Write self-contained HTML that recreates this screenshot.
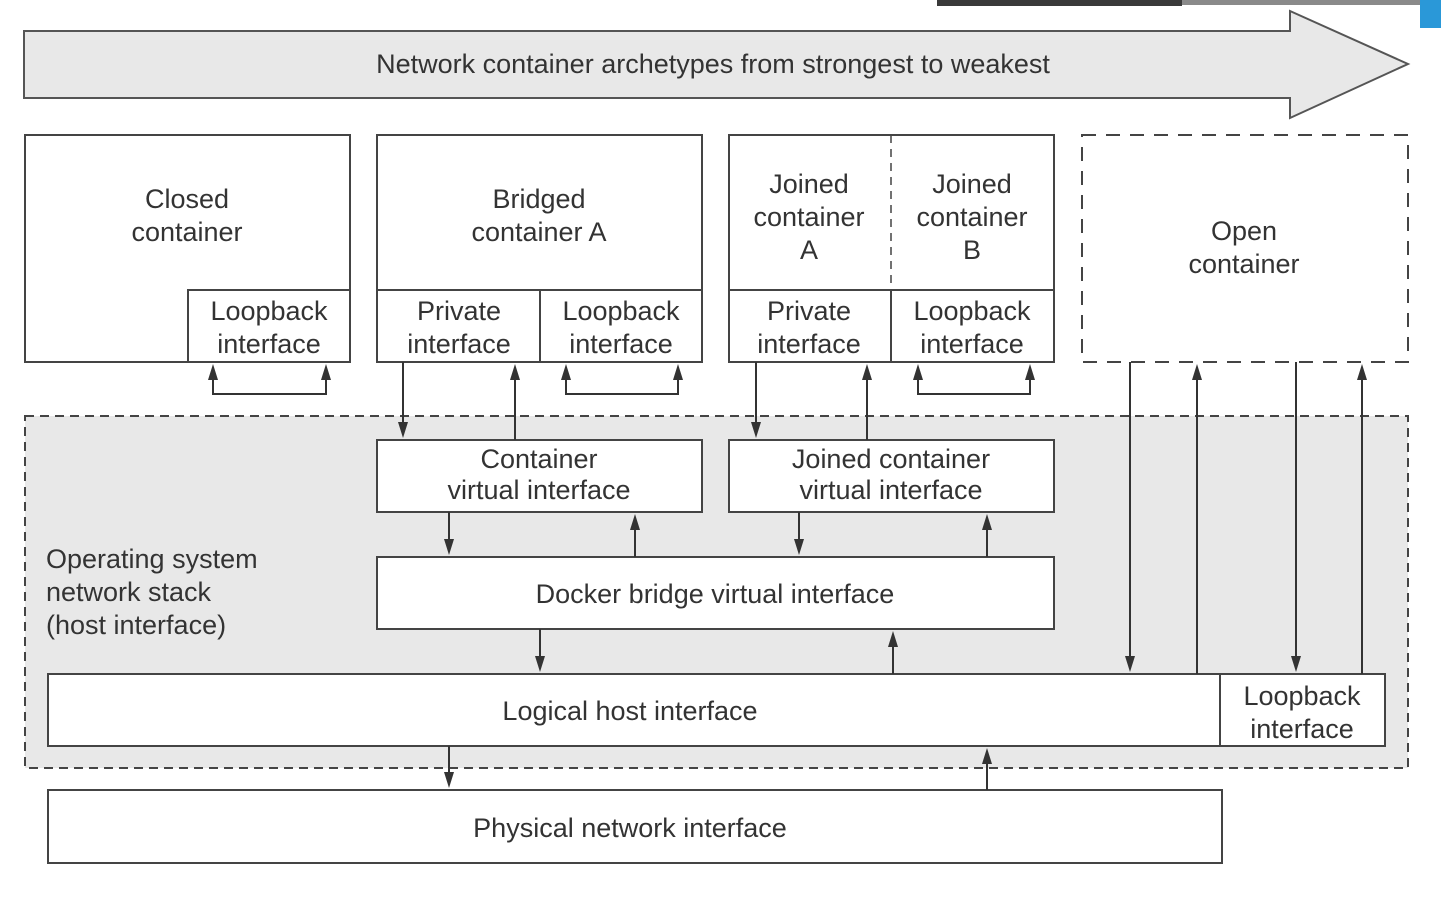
<!DOCTYPE html>
<html><head><meta charset="utf-8"><style>
html,body{margin:0;padding:0;background:#fff;}
svg{display:block;}
text{font-family:"Liberation Sans",Arial,sans-serif;font-size:27px;fill:#333;text-anchor:middle;}
</style></head><body>
<svg width="1441" height="904" viewBox="0 0 1441 904" xmlns="http://www.w3.org/2000/svg">
<rect x="937" y="0" width="245" height="6" fill="#3a3a3a"/>
<rect x="1182" y="0" width="238" height="5" fill="#8a8a8a"/>
<rect x="1420" y="0" width="21" height="28" fill="#2a98d8"/>
<g stroke="#444" stroke-width="2" fill="none">
<path d="M24,31 L1290,31 L1290,11 L1408,64 L1290,118 L1290,98 L24,98 Z" fill="#e8e8e8" stroke="#555"/>
<rect x="25" y="416" width="1383" height="352" fill="#e8e8e8" stroke-dasharray="9,6"/>
<rect x="25" y="135" width="325" height="227" fill="#fff"/>
<rect x="188" y="290" width="162" height="72"/>
<rect x="377" y="135" width="325" height="227" fill="#fff"/>
<line x1="377" y1="290" x2="702" y2="290"/>
<line x1="540" y1="290" x2="540" y2="362"/>
<rect x="729" y="135" width="325" height="227" fill="#fff"/>
<line x1="729" y1="290" x2="1054" y2="290"/>
<line x1="891" y1="290" x2="891" y2="362"/>
<line x1="891" y1="135" x2="891" y2="290" stroke-dasharray="8,6" stroke-width="1.5"/>
<rect x="1082" y="135" width="326" height="227" fill="#fff" stroke-dasharray="14,10"/>
<rect x="377" y="440" width="325" height="72" fill="#fff"/>
<rect x="729" y="440" width="325" height="72" fill="#fff"/>
<rect x="377" y="557" width="677" height="72" fill="#fff"/>
<rect x="48" y="674" width="1337" height="72" fill="#fff"/>
<line x1="1220" y1="674" x2="1220" y2="746"/>
<rect x="48" y="790" width="1174" height="73" fill="#fff"/>
</g>
<g stroke="#333" stroke-width="2" fill="none">
<polyline points="213,376 213,394 326,394 326,376"/>
<polyline points="566,376 566,394 678,394 678,376"/>
<polyline points="918,376 918,394 1030,394 1030,376"/>
<line x1="403" y1="362" x2="403" y2="426"/>
<line x1="756" y1="362" x2="756" y2="426"/>
<line x1="449" y1="512" x2="449" y2="543"/>
<line x1="799" y1="512" x2="799" y2="543"/>
<line x1="540" y1="629" x2="540" y2="660"/>
<line x1="449" y1="746" x2="449" y2="776"/>
<line x1="1130" y1="362" x2="1130" y2="660"/>
<line x1="1296" y1="362" x2="1296" y2="660"/>
<line x1="515" y1="440" x2="515" y2="376"/>
<line x1="867" y1="440" x2="867" y2="376"/>
<line x1="635" y1="557" x2="635" y2="526"/>
<line x1="987" y1="557" x2="987" y2="526"/>
<line x1="893" y1="674" x2="893" y2="643"/>
<line x1="987" y1="790" x2="987" y2="760"/>
<line x1="1197" y1="674" x2="1197" y2="376"/>
<line x1="1362" y1="674" x2="1362" y2="376"/>
</g>
<g fill="#333">
<polygon points="208,380 213,364 218,380"/>
<polygon points="321,380 326,364 331,380"/>
<polygon points="561,380 566,364 571,380"/>
<polygon points="673,380 678,364 683,380"/>
<polygon points="913,380 918,364 923,380"/>
<polygon points="1025,380 1030,364 1035,380"/>
<polygon points="510,380 515,364 520,380"/>
<polygon points="862,380 867,364 872,380"/>
<polygon points="630,530 635,514 640,530"/>
<polygon points="982,530 987,514 992,530"/>
<polygon points="888,647 893,631 898,647"/>
<polygon points="982,764 987,748 992,764"/>
<polygon points="1192,380 1197,364 1202,380"/>
<polygon points="1357,380 1362,364 1367,380"/>
<polygon points="398,422 403,438 408,422"/>
<polygon points="751,422 756,438 761,422"/>
<polygon points="444,539 449,555 454,539"/>
<polygon points="794,539 799,555 804,539"/>
<polygon points="535,656 540,672 545,656"/>
<polygon points="444,772 449,788 454,772"/>
<polygon points="1125,656 1130,672 1135,656"/>
<polygon points="1291,656 1296,672 1301,656"/>
</g>
<text x="713" y="73">Network container archetypes from strongest to weakest</text>
<text x="187" y="208">Closed</text><text x="187" y="241">container</text>
<text x="269" y="320">Loopback</text><text x="269" y="353">interface</text>
<text x="539" y="208">Bridged</text><text x="539" y="241">container A</text>
<text x="459" y="320">Private</text><text x="459" y="353">interface</text>
<text x="621" y="320">Loopback</text><text x="621" y="353">interface</text>
<text x="809" y="193">Joined</text><text x="809" y="226">container</text><text x="809" y="259">A</text>
<text x="972" y="193">Joined</text><text x="972" y="226">container</text><text x="972" y="259">B</text>
<text x="809" y="320">Private</text><text x="809" y="353">interface</text>
<text x="972" y="320">Loopback</text><text x="972" y="353">interface</text>
<text x="1244" y="240">Open</text><text x="1244" y="273">container</text>
<text x="539" y="468">Container</text><text x="539" y="499">virtual interface</text>
<text x="891" y="468">Joined container</text><text x="891" y="499">virtual interface</text>
<text x="715" y="603">Docker bridge virtual interface</text>
<text x="630" y="720">Logical host interface</text>
<text x="1302" y="705">Loopback</text><text x="1302" y="738">interface</text>
<text x="630" y="837">Physical network interface</text>
<text x="46" y="568" style="text-anchor:start">Operating system</text>
<text x="46" y="601" style="text-anchor:start">network stack</text>
<text x="46" y="634" style="text-anchor:start">(host interface)</text>
</svg>
</body></html>
